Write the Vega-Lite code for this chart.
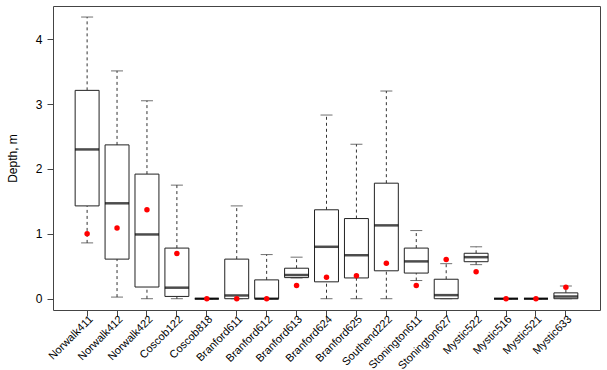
{
  "$schema": "https://vega.github.io/schema/vega-lite/v6.json",
  "autosize": {"type": "none"},
  "padding": {"left": 53, "top": 6, "right": 7, "bottom": 60},
  "width": 547,
  "height": 304,
  "background": "white",
  "config": {
    "view": {"stroke": "#444", "strokeWidth": 1},
    "font": "Liberation Sans",
    "axis": {"labelFont": "Liberation Sans", "titleFont": "Liberation Sans", "labelColor": "black", "titleColor": "black", "tickColor": "#444", "domain": false, "grid": false}
  },
  "data": {
    "values": [
      {"site": "Norwalk411", "lo": 0.86, "q1": 1.43, "med": 2.30, "q3": 3.21, "hi": 4.34, "mean": 1.00},
      {"site": "Norwalk412", "lo": 0.025, "q1": 0.61, "med": 1.47, "q3": 2.37, "hi": 3.51, "mean": 1.09},
      {"site": "Norwalk422", "lo": 0.0, "q1": 0.18, "med": 0.99, "q3": 1.92, "hi": 3.05, "mean": 1.37},
      {"site": "Coscob122", "lo": 0.0, "q1": 0.035, "med": 0.17, "q3": 0.78, "hi": 1.75, "mean": 0.695},
      {"site": "Coscob818", "lo": 0.0, "q1": 0.0, "med": 0.0, "q3": 0.0, "hi": 0.0, "mean": 0.0},
      {"site": "Branford611", "lo": 0.0, "q1": 0.0, "med": 0.05, "q3": 0.61, "hi": 1.43, "mean": 0.0},
      {"site": "Branford612", "lo": 0.0, "q1": 0.0, "med": 0.0, "q3": 0.29, "hi": 0.68, "mean": 0.0},
      {"site": "Branford613", "lo": 0.32, "q1": 0.325, "med": 0.365, "q3": 0.47, "hi": 0.64, "mean": 0.205},
      {"site": "Branford624", "lo": 0.0, "q1": 0.26, "med": 0.80, "q3": 1.37, "hi": 2.83, "mean": 0.33},
      {"site": "Branford625", "lo": 0.0, "q1": 0.32, "med": 0.67, "q3": 1.235, "hi": 2.38, "mean": 0.355},
      {"site": "Southend222", "lo": 0.0, "q1": 0.43, "med": 1.13, "q3": 1.78, "hi": 3.20, "mean": 0.545},
      {"site": "Stonington611", "lo": 0.28, "q1": 0.395, "med": 0.575, "q3": 0.78, "hi": 1.05, "mean": 0.205},
      {"site": "Stonington627", "lo": 0.0, "q1": 0.0, "med": 0.055, "q3": 0.30, "hi": 0.54, "mean": 0.605},
      {"site": "Mystic522", "lo": 0.525, "q1": 0.57, "med": 0.64, "q3": 0.70, "hi": 0.80, "mean": 0.415},
      {"site": "Mystic516", "lo": 0.0, "q1": 0.0, "med": 0.0, "q3": 0.0, "hi": 0.0, "mean": 0.0},
      {"site": "Mystic521", "lo": 0.0, "q1": 0.0, "med": 0.0, "q3": 0.0, "hi": 0.0, "mean": 0.0},
      {"site": "Mystic633", "lo": 0.0, "q1": 0.0, "med": 0.035, "q3": 0.09, "hi": 0.195, "mean": 0.175}
    ]
  },
  "encoding": {
    "x": {
      "field": "site", "type": "nominal", "sort": null,
      "scale": {"paddingInner": 0.2, "paddingOuter": 0.74},
      "axis": {"title": null, "labelAngle": -45, "labelAlign": "right", "labelBaseline": "top", "labelFontSize": 11, "tickSize": 6, "labelPadding": -3, "labelOverlap": false, "labelBound": false}
    }
  },
  "layer": [
    {
      "mark": {"type": "rule", "strokeDash": [3, 3], "color": "#333", "strokeWidth": 1},
      "encoding": {
        "y": {"field": "lo", "type": "quantitative",
          "scale": {"domain": [-0.174, 4.51], "nice": false, "zero": false},
          "axis": {"title": "Depth, m", "values": [0, 1, 2, 3, 4], "format": "d", "labelFontSize": 12, "titleFontSize": 12, "titleFontWeight": "normal", "tickSize": 6, "labelPadding": 5, "titlePadding": 16}},
        "y2": {"field": "q1"}
      }
    },
    {
      "mark": {"type": "rule", "strokeDash": [3, 3], "color": "#333", "strokeWidth": 1},
      "encoding": {"y": {"field": "q3", "type": "quantitative"}, "y2": {"field": "hi"}}
    },
    {
      "mark": {"type": "tick", "color": "#333", "thickness": 1},
      "encoding": {"y": {"field": "lo", "type": "quantitative"}, "size": {"value": 12}}
    },
    {
      "mark": {"type": "tick", "color": "#333", "thickness": 1},
      "encoding": {"y": {"field": "hi", "type": "quantitative"}, "size": {"value": 12}}
    },
    {
      "mark": {"type": "bar", "fill": "white", "stroke": "#222", "strokeWidth": 1},
      "encoding": {"y": {"field": "q1", "type": "quantitative"}, "y2": {"field": "q3"}}
    },
    {
      "mark": {"type": "tick", "color": "black", "thickness": 2.5},
      "encoding": {"y": {"field": "med", "type": "quantitative"}, "size": {"value": 24}}
    },
    {
      "mark": {"type": "point", "filled": true, "color": "red", "opacity": 1, "size": 30},
      "encoding": {"y": {"field": "mean", "type": "quantitative"}}
    }
  ]
}
